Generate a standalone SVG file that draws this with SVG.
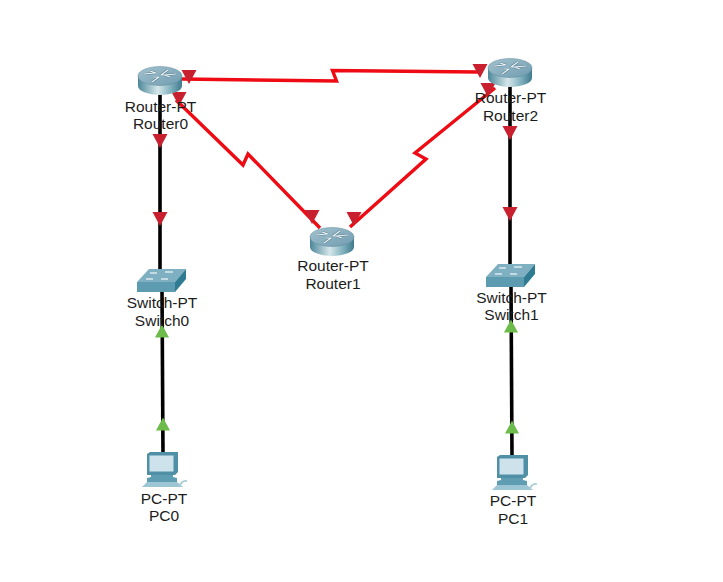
<svg xmlns="http://www.w3.org/2000/svg" width="723" height="582" viewBox="0 0 723 582">
<style>
text{font-family:"Liberation Sans",Arial,sans-serif;font-size:15.5px;fill:#1c1c1c;text-anchor:middle}
.red{fill:none;stroke:#ee0b14;stroke-width:3.4;stroke-linejoin:miter}
.blk{fill:none;stroke:#000;stroke-width:3.6}
.rt{fill:#c9202f}
.gt{fill:#6cbb4b}
</style>
<defs>
<linearGradient id="cyl" x1="0" x2="1" y1="0" y2="0">
<stop offset="0" stop-color="#4d8799"/><stop offset=".45" stop-color="#d5e6ea"/><stop offset=".75" stop-color="#7fb0bd"/><stop offset="1" stop-color="#3f7a8d"/>
</linearGradient>
<linearGradient id="topg" x1="0" x2="1" y1="0" y2="1">
<stop offset="0" stop-color="#a4c2ce"/><stop offset="1" stop-color="#6f9cb0"/>
</linearGradient>
<polygon id="tri" points="-7.500,-7 7.500,-7 0,7"/>
<polygon id="triUp" points="-7,6.500 7,6.500 0,-6.500"/>
<g id="routerIcon">
<path d="M-22,0V10A22,9 0 0 0 22,10V0Z" fill="url(#cyl)"/>
<ellipse cx="0" cy="0" rx="22" ry="9.500" fill="url(#topg)" stroke="#5e8a9c" stroke-width=".5"/>
<path d="M-16,-2 L-5,-3 M-10,-5 L-4,-3 M16,-2 L4,-1 M10,1 L4,-1 M-8,6 L-1,1 M-6,1 L-1,1 M8,-6 L1,-1 M6,-1 L1,-1" fill="none" stroke="#2f5566" stroke-width="2.200" opacity=".55"/>
<path d="M-16,-2 L-5,-3 M-10,-5 L-4,-3 M16,-2 L4,-1 M10,1 L4,-1 M-8,6 L-1,1 M-6,1 L-1,1 M8,-6 L1,-1 M6,-1 L1,-1" fill="none" stroke="#eef5f7" stroke-width="1.200"/>
</g>
<g id="switchIcon">
<polygon points="0,13 12,0 49,0 38,13" fill="#7fb0c2"/>
<rect x="0" y="13" width="38" height="10" fill="#5d9bb0"/>
<polygon points="38,13 49,0 49,10 38,23" fill="#2f7b91"/>
<path d="M13,4 H20 M28,3 H36 M9,10 H16 M24,10 H31" stroke="#dbe9ee" stroke-width="1.300" fill="none"/>
</g>
<g id="pcIcon">
<polygon points="5,2 8,0 36,0 36,20 33,23 5,23" fill="#4f90a6"/>
<rect x="7.500" y="3.500" width="24" height="16" fill="#cde2ea"/>
<polygon points="9,23 31,23 31,25 35,26 35,30 5,30 5,26 9,25" fill="#5f9db2"/>
<polygon points="5,30 35,30 41,35 0,35" fill="#9cc6d3"/>
<path d="M37,35 C39,30 41,28 45,29" stroke="#a7cbd6" stroke-width="1.800" fill="none"/>
</g>
</defs>
<rect width="723" height="582" fill="#fff"/>
<g id="connectors">
<polyline class="red" points="182,79 336.500,81 332.500,70.500 478,72"/>
<polyline class="red" points="176,100 243,165 248,154 320,228"/>
<polyline class="red" points="495,88 415,153 426,159 350,227"/>
<line class="blk" x1="160" y1="95" x2="160" y2="272"/>
<line class="blk" x1="162" y1="290" x2="163" y2="455"/>
<line class="blk" x1="510" y1="85" x2="510" y2="266"/>
<line class="blk" x1="511" y1="285" x2="512" y2="457"/>
<use href="#tri" class="rt" x="189" y="77"/>
<use href="#tri" class="rt" x="179" y="99"/>
<use href="#tri" class="rt" x="480" y="71"/>
<use href="#tri" class="rt" x="488" y="90"/>
<use href="#tri" class="rt" x="312" y="217"/>
<use href="#tri" class="rt" x="354" y="219"/>
<use href="#tri" class="rt" x="160" y="141"/>
<use href="#tri" class="rt" x="160" y="219"/>
<use href="#tri" class="rt" x="510" y="133"/>
<use href="#tri" class="rt" x="510" y="214"/>
<use href="#triUp" class="gt" x="162" y="331"/>
<use href="#triUp" class="gt" x="163" y="424"/>
<use href="#triUp" class="gt" x="511" y="326"/>
<use href="#triUp" class="gt" x="512" y="427"/>
</g>
<g id="Router0"><use href="#routerIcon" x="160" y="76"/><text x="160.500" y="112">Router-PT</text><text x="160.500" y="129">Router0</text></g>
<g id="Router1"><use href="#routerIcon" x="332" y="237"/><text x="333" y="271">Router-PT</text><text x="333" y="289">Router1</text></g>
<g id="Router2"><use href="#routerIcon" x="510" y="68"/><text x="510.500" y="103">Router-PT</text><text x="510.500" y="121">Router2</text></g>
<g id="Switch0"><use href="#switchIcon" x="137" y="269"/><text x="162" y="308">Switch-PT</text><text x="162" y="326">Switch0</text></g>
<g id="Switch1"><use href="#switchIcon" x="486" y="264"/><text x="511.500" y="303">Switch-PT</text><text x="511.500" y="320">Switch1</text></g>
<g id="PC0"><use href="#pcIcon" x="142" y="452"/><text x="164" y="504">PC-PT</text><text x="164" y="521">PC0</text></g>
<g id="PC1"><use href="#pcIcon" x="492" y="455"/><text x="513" y="506">PC-PT</text><text x="513" y="524">PC1</text></g>
</svg>
